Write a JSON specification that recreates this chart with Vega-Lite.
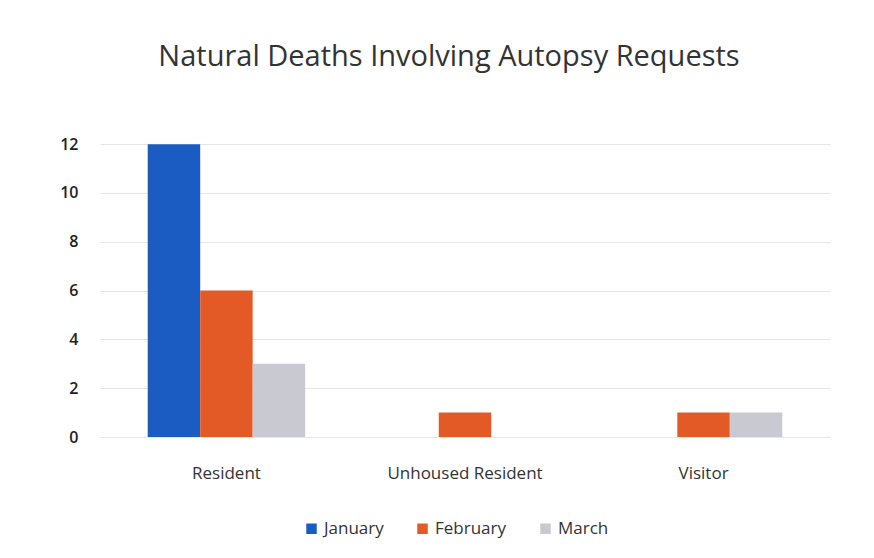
{
  "$schema": "https://vega.github.io/schema/vega-lite/v6.json",
  "autosize": {"type": "none"},
  "width": 730,
  "height": 327,
  "padding": {"left": 100, "top": 110, "right": 44, "bottom": 121},
  "background": "#ffffff",
  "title": {
    "text": "Natural Deaths Involving Autopsy Requests",
    "font": "Open Sans",
    "fontSize": 29,
    "fontWeight": "normal",
    "color": "#333333",
    "anchor": "middle",
    "dx": -16,
    "offset": 38
  },
  "data": {
    "values": [
      {"category": "Resident", "month": "January", "deaths": 12},
      {"category": "Resident", "month": "February", "deaths": 6},
      {"category": "Resident", "month": "March", "deaths": 3},
      {"category": "Unhoused Resident", "month": "January", "deaths": 0},
      {"category": "Unhoused Resident", "month": "February", "deaths": 1},
      {"category": "Unhoused Resident", "month": "March", "deaths": 0},
      {"category": "Visitor", "month": "January", "deaths": 0},
      {"category": "Visitor", "month": "February", "deaths": 1},
      {"category": "Visitor", "month": "March", "deaths": 1}
    ]
  },
  "mark": {"type": "bar", "stroke": null},
  "encoding": {
    "x": {
      "field": "category",
      "type": "nominal",
      "sort": ["Resident", "Unhoused Resident", "Visitor"],
      "scale": {"paddingInner": 0.34, "paddingOuter": 0.2},
      "axis": {
        "title": null,
        "labelAngle": 0,
        "labelFont": "Open Sans",
        "labelFontSize": 17,
        "labelColor": "#333333",
        "labelPadding": 28,
        "domain": false,
        "ticks": false
      }
    },
    "xOffset": {
      "field": "month",
      "type": "nominal",
      "sort": ["January", "February", "March"]
    },
    "y": {
      "field": "deaths",
      "type": "quantitative",
      "scale": {"domain": [0, 13.4], "nice": false},
      "axis": {
        "title": null,
        "values": [0, 2, 4, 6, 8, 10, 12],
        "labelFont": "Open Sans",
        "labelFontSize": 16,
        "labelFontWeight": 600,
        "labelColor": "#222222",
        "labelPadding": 22,
        "domain": false,
        "ticks": false,
        "grid": true,
        "gridColor": "#e6e6e6",
        "gridWidth": 1
      }
    },
    "color": {
      "field": "month",
      "type": "nominal",
      "sort": ["January", "February", "March"],
      "scale": {
        "domain": ["January", "February", "March"],
        "range": ["#1a5cc2", "#e45a27", "#c9c9d2"]
      },
      "legend": {
        "title": null,
        "orient": "none",
        "legendX": 203,
        "legendY": 410,
        "direction": "horizontal",
        "symbolType": "square",
        "symbolSize": 110,
        "labelFont": "Open Sans",
        "labelFontSize": 17,
        "labelColor": "#333333",
        "columnPadding": 30
      }
    }
  },
  "config": {"view": {"stroke": null}}
}
